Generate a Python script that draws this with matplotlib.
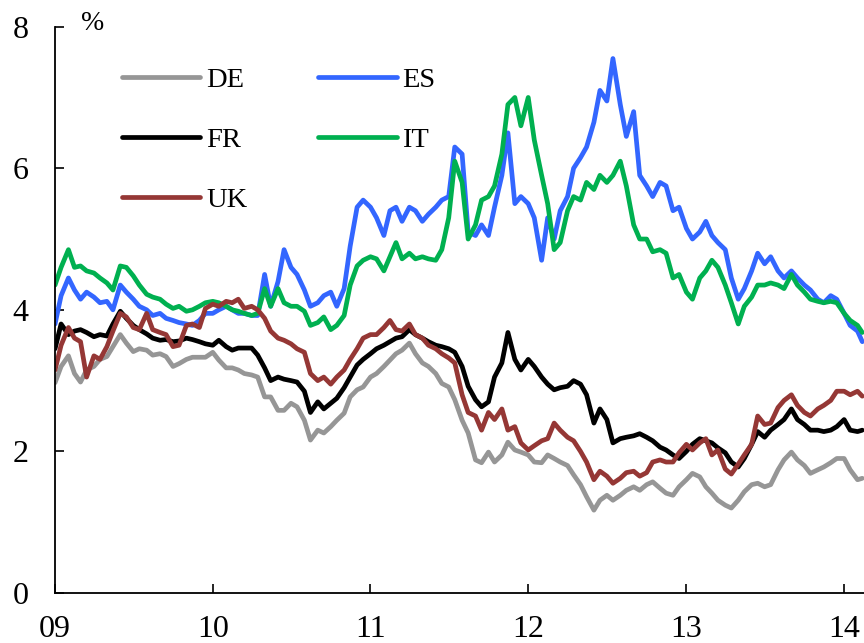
import pandas as pd
import matplotlib
matplotlib.use('Agg')
import matplotlib.pyplot as plt
import matplotlib.dates as mdates

plt.rcParams['font.family'] = ['Liberation Serif', 'DejaVu Serif']

# semi-monthly readings, Jan 2009 - mid Feb 2014
dates = list(pd.date_range('2009-01-01', '2014-02-01', freq='SMS')) + [pd.Timestamp('2014-02-12')]

de = [2.97, 3.2, 3.35, 3.1, 2.98, 3.15, 3.2, 3.3, 3.34, 3.48, 3.65, 3.53, 3.41, 3.45, 3.43, 3.36, 3.38, 3.34, 3.2, 3.24, 3.3, 3.33, 3.33, 3.33,
      3.4, 3.29, 3.18, 3.18, 3.15, 3.1, 3.08, 3.05, 2.77, 2.77, 2.58, 2.58, 2.68, 2.63, 2.44, 2.16, 2.3, 2.26, 2.35, 2.44, 2.54, 2.77, 2.87, 2.91,
      3.05, 3.1, 3.2, 3.29, 3.38, 3.43, 3.53, 3.38, 3.25, 3.2, 3.1, 2.96, 2.91, 2.73, 2.44, 2.26, 1.88, 1.84, 1.99, 1.85, 1.95, 2.13, 2.02, 1.99,
      1.95, 1.85, 1.84, 1.95, 1.9, 1.85, 1.8, 1.67, 1.53, 1.36, 1.17, 1.31, 1.38, 1.31, 1.38, 1.45, 1.5, 1.45, 1.53, 1.57, 1.48, 1.41, 1.38, 1.5,
      1.6, 1.69, 1.64, 1.5, 1.41, 1.31, 1.24, 1.2, 1.31, 1.43, 1.53, 1.55, 1.5, 1.53, 1.74, 1.88, 1.99, 1.88, 1.8, 1.69, 1.74, 1.78, 1.84, 1.9,
      1.9, 1.74, 1.6, 1.62]

es = [3.8, 4.2, 4.45, 4.28, 4.15, 4.25, 4.18, 4.1, 4.12, 4.0, 4.35, 4.25, 4.15, 4.05, 4.0, 3.92, 3.95, 3.88, 3.85, 3.82, 3.8, 3.78, 3.85, 3.95,
      3.95, 4.0, 4.05, 4.0, 3.95, 3.95, 3.92, 3.92, 4.5, 4.05, 4.4, 4.85, 4.6, 4.5, 4.28, 4.05, 4.1, 4.2, 4.25, 4.05, 4.3, 4.9, 5.45, 5.55,
      5.45, 5.3, 5.05, 5.4, 5.45, 5.25, 5.45, 5.4, 5.25, 5.35, 5.45, 5.55, 5.6, 6.3, 6.2, 5.1, 5.05, 5.2, 5.05, 5.45, 5.9, 6.5, 5.5, 5.6,
      5.5, 5.3, 4.7, 5.3, 5.0, 5.4, 5.6, 6.0, 6.15, 6.3, 6.65, 7.1, 6.95, 7.55, 6.9, 6.45, 6.8, 5.9, 5.75, 5.6, 5.8, 5.75, 5.4, 5.45,
      5.15, 5.0, 5.1, 5.25, 5.05, 4.95, 4.85, 4.45, 4.15, 4.3, 4.55, 4.8, 4.65, 4.75, 4.55, 4.45, 4.55, 4.45, 4.35, 4.28, 4.15, 4.1, 4.2, 4.15,
      3.95, 3.78, 3.7, 3.55]

fr = [3.45, 3.8, 3.65, 3.7, 3.72, 3.68, 3.62, 3.65, 3.63, 3.8, 3.98, 3.88, 3.78, 3.72, 3.66, 3.6, 3.57, 3.58, 3.55, 3.56, 3.6, 3.58, 3.55, 3.52,
      3.5, 3.57, 3.48, 3.43, 3.46, 3.46, 3.46, 3.36, 3.18, 3.0, 3.05, 3.02, 3.0, 2.98, 2.85, 2.55, 2.7, 2.6, 2.68, 2.75, 2.9, 3.05, 3.22, 3.3,
      3.38, 3.45, 3.5, 3.55, 3.6, 3.62, 3.72, 3.65, 3.6, 3.55, 3.5, 3.48, 3.45, 3.4, 3.2, 2.92, 2.73, 2.63, 2.7, 3.05, 3.25, 3.68, 3.3, 3.15,
      3.3, 3.2, 3.05, 2.95, 2.87, 2.9, 2.92, 3.0, 2.95, 2.8, 2.4, 2.6, 2.45, 2.12, 2.18, 2.2, 2.22, 2.25, 2.2, 2.15, 2.06, 2.02, 1.95, 1.9,
      2.0, 2.1, 2.18, 2.15, 2.12, 2.05, 1.98, 1.85, 1.78, 1.9, 2.1, 2.28, 2.2, 2.3, 2.38, 2.45, 2.6, 2.45, 2.38, 2.3, 2.3, 2.28, 2.3, 2.35,
      2.45, 2.3, 2.28, 2.3]

it = [4.35, 4.6, 4.85, 4.6, 4.62, 4.55, 4.52, 4.45, 4.38, 4.28, 4.62, 4.6, 4.48, 4.35, 4.22, 4.18, 4.15, 4.08, 4.02, 4.05, 3.98, 4.0, 4.05, 4.1,
      4.12, 4.1, 4.05, 4.0, 3.98, 3.95, 3.92, 3.95, 4.3, 4.05, 4.3, 4.1, 4.05, 4.05, 3.98, 3.78, 3.82, 3.9, 3.72, 3.78, 3.92, 4.35, 4.62, 4.7,
      4.75, 4.72, 4.55, 4.75, 4.95, 4.72, 4.8, 4.72, 4.75, 4.72, 4.7, 4.85, 5.3, 6.1, 5.8, 5.0, 5.2, 5.55, 5.6, 5.75, 6.2, 6.9, 7.0, 6.6,
      7.0, 6.4, 5.9, 5.5, 4.85, 4.95, 5.4, 5.6, 5.55, 5.8, 5.7, 5.9, 5.8, 5.9, 6.1, 5.75, 5.2, 5.0, 5.0, 4.82, 4.85, 4.8, 4.45, 4.5,
      4.25, 4.15, 4.45, 4.55, 4.7, 4.6, 4.35, 4.1, 3.8, 4.05, 4.18, 4.35, 4.35, 4.38, 4.35, 4.3, 4.5, 4.35, 4.25, 4.15, 4.12, 4.1, 4.12, 4.1,
      3.95, 3.85, 3.78, 3.68]

uk = [3.15, 3.5, 3.75, 3.6, 3.55, 3.05, 3.35, 3.3, 3.48, 3.7, 3.95, 3.9, 3.75, 3.72, 3.95, 3.72, 3.68, 3.65, 3.48, 3.5, 3.78, 3.8, 3.75, 4.02,
      4.08, 4.05, 4.12, 4.1, 4.15, 4.02, 4.05, 4.0, 3.88, 3.7, 3.6, 3.57, 3.52, 3.45, 3.4, 3.1, 3.0, 3.05, 2.95, 3.05, 3.15, 3.3, 3.45, 3.6,
      3.65, 3.65, 3.75, 3.85, 3.72, 3.7, 3.8, 3.65, 3.6, 3.5, 3.45, 3.38, 3.32, 3.25, 2.8, 2.55, 2.5, 2.3, 2.55, 2.45, 2.6, 2.3, 2.35, 2.12,
      2.02, 2.08, 2.15, 2.18, 2.4, 2.3, 2.2, 2.15, 2.0, 1.85, 1.6, 1.72, 1.65, 1.55, 1.62, 1.7, 1.72, 1.65, 1.7, 1.85, 1.88, 1.85, 1.85, 1.98,
      2.1, 2.02, 2.12, 2.18, 1.95, 2.02, 1.75, 1.68, 1.82, 1.95, 2.1, 2.5, 2.38, 2.4, 2.62, 2.72, 2.8, 2.65, 2.55, 2.5, 2.6, 2.65, 2.72, 2.85,
      2.85, 2.8, 2.85, 2.78]

series = [('DE', de, '#969696'), ('ES', es, '#3366FF'), ('FR', fr, '#000000'),
          ('IT', it, '#00B050'), ('UK', uk, '#953735')]

fig = plt.figure(figsize=(8.64, 6.43), dpi=100)
ax = fig.add_axes([0.0637, 0.0778, 0.9363, 0.8807])

lines = {}
for name, vals, col in series:
    lines[name], = ax.plot(dates, vals, color=col, lw=3.4, label=name,
                           solid_capstyle='round', solid_joinstyle='round')

ax.set_ylim(0, 8)
ax.set_yticks([0, 2, 4, 6, 8])
ax.set_xlim(pd.Timestamp('2009-01-01'), pd.Timestamp('2014-02-16'))
ax.xaxis.set_major_locator(mdates.YearLocator())
ax.xaxis.set_major_formatter(mdates.DateFormatter('%y'))

for s in ['top', 'right']:
    ax.spines[s].set_visible(False)
for s in ['left', 'bottom']:
    ax.spines[s].set_linewidth(1.3)
ax.tick_params(direction='in', length=6.5, width=1.2, labelsize=23)
ax.tick_params(axis='y', pad=19)
ax.tick_params(axis='x', pad=15.5)

ax.text(0.047, 1.006, '%', transform=ax.transAxes, fontsize=20, ha='center', va='center')

order = ['DE', 'FR', 'UK', 'ES', 'IT']
ax.legend([lines[n] for n in order], order, ncol=2, loc='upper left',
          bbox_to_anchor=(0.083, 0.929), frameon=False, fontsize=20.5,
          handlelength=2.75, handletextpad=0.2, columnspacing=2.5,
          labelspacing=1.2, borderpad=0, borderaxespad=0)

fig.savefig('out.png', dpi=100)
